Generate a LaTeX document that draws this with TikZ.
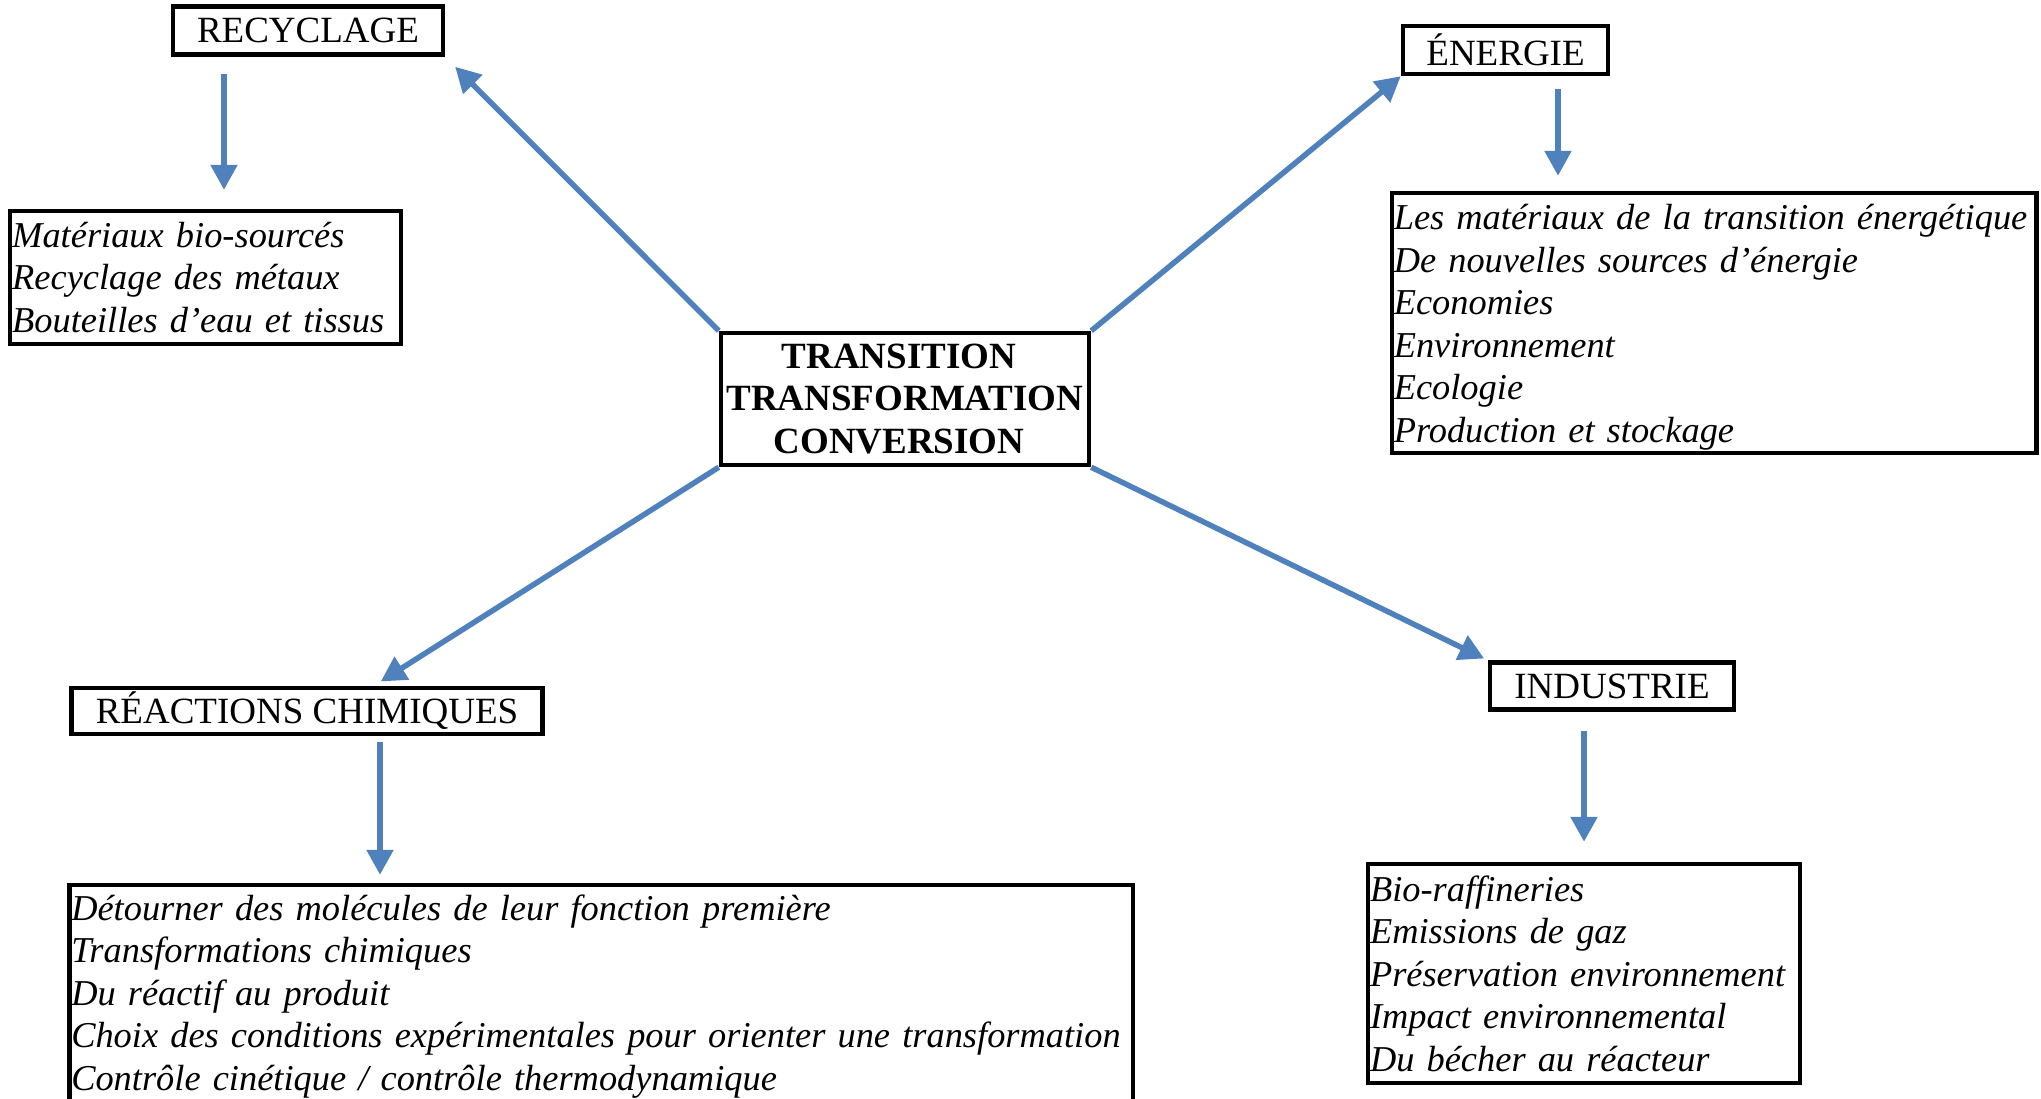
\documentclass[tikz,border=0pt]{standalone}
\usepackage{fontspec}
\setmainfont{Liberation Serif}
\usetikzlibrary{arrows.meta}
\definecolor{wordblue}{RGB}{79,129,189}
\tikzset{
  titlebox/.style={draw, line width=4.5pt, inner sep=0pt,
    font=\fontsize{37}{42.5}\selectfont},
  listbox/.style={draw, line width=4.5pt, inner xsep=2pt, inner ysep=0pt,
    text width=#1, align=left, font=\fontsize{36.4}{42.5}\selectfont\itshape},
  bluearrow/.style={draw=wordblue, line width=5.5pt,
    -{Triangle[length=25pt,width=26pt]}}
}
\begin{document}
\begin{tikzpicture}[x=1pt,y=-1pt]
\useasboundingbox (0,0) rectangle (2041,1098);

% centre
\node[titlebox, align=center, minimum width=368pt, minimum height=132pt,
      font=\fontsize{37}{42.5}\selectfont\bfseries]
  (central) at (905,399) {TRANSITION\hspace*{12pt}\\TRANSFORMATION\\CONVERSION\hspace*{12pt}};

% titles
\node[titlebox, minimum width=270pt, minimum height=48pt] (recyc) at (308,30.6) {RECYCLAGE};
\node[titlebox, minimum width=205pt, minimum height=48pt] (energie) at (1505.5,50) {ÉNERGIE};
\node[titlebox, minimum width=471pt, minimum height=46pt] (reactions) at (307,711) {RÉACTIONS CHIMIQUES};
\node[titlebox, minimum width=244pt, minimum height=47pt] (industrie) at (1612,686) {INDUSTRIE};

% lists
\node[listbox=387pt, minimum height=133pt] (recyclist) at (205.7,277.5)
  {\mbox{Matériaux bio-sourcés}\\
   \mbox{Recyclage des métaux}\\
   \mbox{Bouteilles d’eau et tissus}};
\node[listbox=640.5pt, minimum height=260pt] (energielist) at (1714,323)
  {\rule{0pt}{34pt}\mbox{Les matériaux de la transition énergétique}\\
   \mbox{De nouvelles sources d’énergie}\\
   Economies\\
   Environnement\\
   Ecologie\\
   \mbox{Production et stockage}};
\node[listbox=1059.5pt, minimum height=217pt] (reactionlist) at (601,993.5)
  {\rule{0pt}{31pt}\mbox{Détourner des molécules de leur fonction première}\\
   \mbox{Transformations chimiques}\\
   \mbox{Du réactif au produit}\\
   \mbox{Choix des conditions expérimentales pour orienter une transformation}\\
   \mbox{Contrôle cinétique / contrôle thermodynamique}};
\node[listbox=428pt, minimum height=219pt] (industrielist) at (1584,973.5)
  {Bio-raffineries\\
   \mbox{Emissions de gaz}\\
   \mbox{Préservation environnement}\\
   \mbox{Impact environnemental}\\
   \mbox{Du bécher au réacteur}};

% Centre Arrows
\draw[bluearrow, shorten >=14pt] (central.north west) -- (recyc.south east);
\draw[bluearrow] (central.north east) -- (energie.south west);
\draw[bluearrow, shorten >=8pt] (central.south west) -- ([xshift=67pt]reactions.north);
\draw[bluearrow, shorten >=4pt] (central.south east) -- (industrie.north west);

% Down Arrows
\draw[bluearrow, shorten <=17pt, shorten >=19pt] ([xshift=-84pt]recyc.south) -- ([xshift=18.3pt]recyclist.north);
\draw[bluearrow, shorten <=13pt, shorten >=15pt] ([xshift=52.5pt]energie.south) -- ([xshift=-156pt]energielist.north);
\draw[bluearrow, shorten <=6pt, shorten >=8pt] ([xshift=73pt]reactions.south) -- ([xshift=-221pt]reactionlist.north);
\draw[bluearrow, shorten <=19pt, shorten >=20pt] ([xshift=-28pt]industrie.south) -- (industrielist.north);
\end{tikzpicture}
\end{document}
